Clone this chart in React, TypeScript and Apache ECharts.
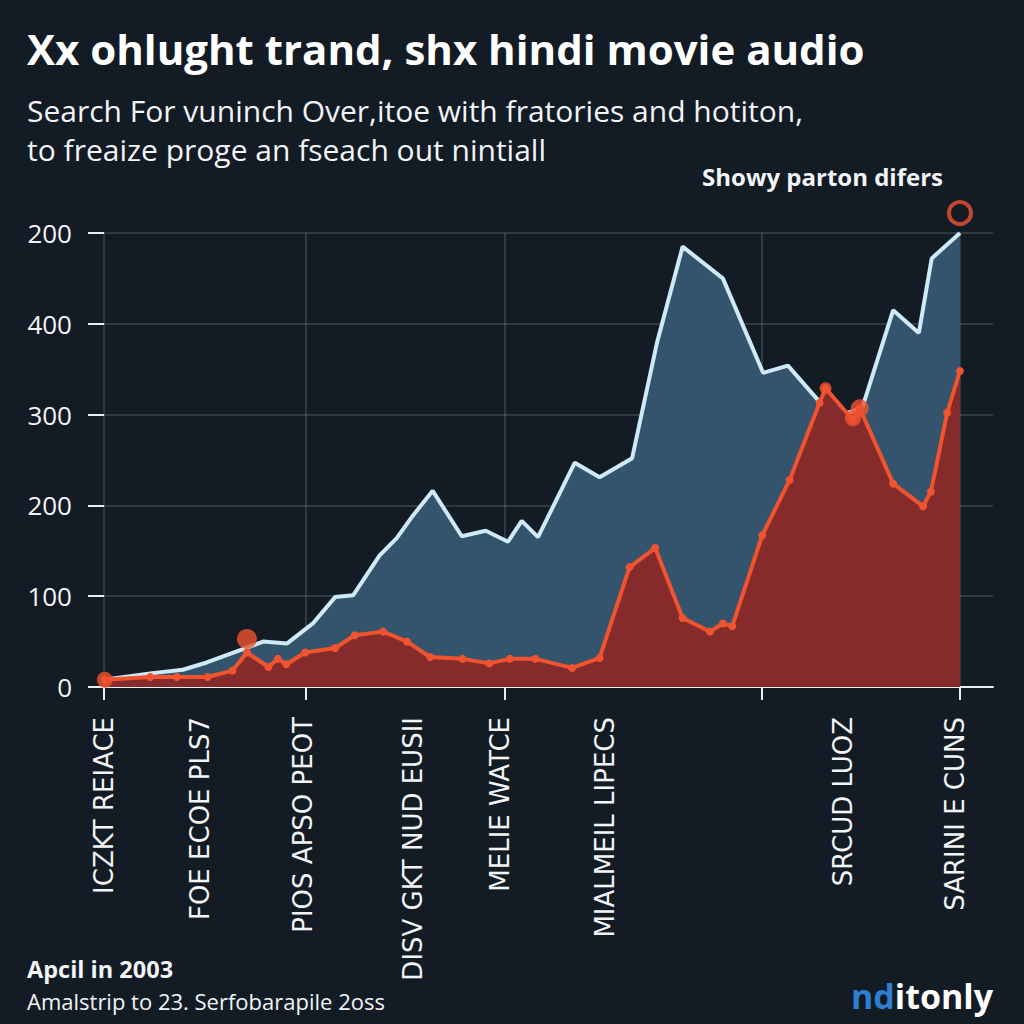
import React, { useEffect, useRef } from "react";
import * as echarts from "echarts";

// ---- data ----
const blueX = [0, 5.4, 9.2, 12.0, 18.6, 21.4, 24.4, 27.0, 29.1, 32.2, 34.2, 36.1, 38.4, 41.8, 44.6, 47.2, 48.8, 50.7, 55.0, 57.9, 59.9, 61.7, 64.6, 67.6, 72.3, 77.0, 79.9, 83.6, 86.9, 88.6, 92.2, 95.2, 96.7, 100];
const blueY = [8, 15, 19, 27, 50, 48, 70, 99, 101, 145, 164, 189, 216, 166, 172, 160, 183, 165, 247, 231, 242, 252, 379, 485, 450, 346, 354, 314, 302, 308, 415, 390, 472, 500];

const redX = [0.1, 5.4, 8.5, 12.1, 15.0, 16.7, 19.2, 20.3, 21.3, 23.5, 27.0, 29.3, 32.6, 35.4, 38.1, 41.9, 45.0, 47.4, 50.4, 54.7, 57.9, 61.4, 64.4, 67.6, 70.8, 72.3, 73.4, 76.9, 80.1, 83.6, 84.3, 87.5, 88.3, 92.2, 95.7, 96.6, 98.5, 100];
const redY = [8, 11, 11, 11, 18, 38, 22, 31, 25, 38, 43, 57, 61, 50, 33, 31, 26, 31, 31, 21, 32, 132, 153, 76, 61, 70, 67, 167, 228, 313, 329, 294, 307, 224, 199, 215, 302, 348];

const highlightX = [0.1, 16.7, 84.3, 87.5, 88.3];
const highlightY = [8, 53, 329, 296, 307];
const highlightSize = [16, 20, 12, 16, 18];

const ringPoint = [100, 522];

const gridLineXs = [0, 23.6, 46.85, 76.87, 100];
const gridLineTops = [525, 525, 525, 525, 584];
const categoryPos = [0, 11.2, 23.2, 36.1, 46.3, 58.5, 86.3, 99.4];
const categories = [
  "ICZKT REIACE",
  "FOE ECOE PLS7",
  "PIOS APSO PEOT",
  "DISV GKT NUD EUSII",
  "MELIE WATCE",
  "MIALMEIL LIPECS",
  "SRCUD LUOZ",
  "SARINI E CUNS",
];
const yTickLabels = ["0", "100", "200", "300", "400", "200"];

const title = "Xx ohlught trand, shx hindi movie audio";
const subtitle1 = "Search For vuninch Over,itoe with fratories and hotiton,";
const subtitle2 = "to freaize proge an fseach out nintiall";
const annotation = "Showy parton difers";
const footer1 = "Apcil in 2003";
const footer2 = "Amalstrip to 23. Serfobarapile 2oss";

const X_MAX = 103.86;
const Y_MAX = 500;
const BG = "#131b25";
const RED = "#f0532f";
const TEXT = "#f2f4f6";
const GRIDC = "rgba(130,145,160,0.35)";

export default function App() {
  const ref = useRef<HTMLDivElement>(null);
  useEffect(() => {
    const chart = echarts.init(ref.current!, null, { renderer: "svg" });
    const option: any = {
      animation: false,
      backgroundColor: BG,
      grid: { left: 104, right: 31, top: 233, bottom: 337, containLabel: false },
      xAxis: [
        {
          type: "value",
          min: 0,
          max: X_MAX,
          position: "bottom",
          axisLine: { show: true, lineStyle: { color: "#e9eef2", width: 2 } },
          axisTick: { show: true, customValues: gridLineXs, length: 13, lineStyle: { color: "#e9eef2", width: 2 } },
          axisLabel: { show: false },
          splitLine: { show: true, lineStyle: { color: GRIDC, width: 1.5 } },
        },
        {
          type: "value",
          min: 0,
          max: X_MAX,
          position: "bottom",
          offset: 0,
          axisLine: { show: false },
          axisTick: { show: false },
          splitLine: { show: false },
          axisLabel: {
            show: true,
            customValues: categoryPos,
            rotate: 90,
            margin: 30,
            color: TEXT,
            fontFamily: "DejaVu Sans",
            fontSize: 26,
            formatter: (v: number) => {
              const i = categoryPos.findIndex((p) => Math.abs(p - v) < 1e-6);
              return i >= 0 ? categories[i] : "";
            },
          },
        },
      ],
      yAxis: {
        type: "value",
        min: 0,
        max: Y_MAX,
        interval: 100,
        axisLine: { show: false },
        axisTick: { show: true, length: 16, lineStyle: { color: "#e9eef2", width: 2 } },
        axisLabel: {
          margin: 32,
          color: TEXT,
          fontFamily: "Open Sans",
          fontSize: 26,
          formatter: (v: number) => yTickLabels[Math.round(v / 100)] ?? "",
        },
        splitLine: { show: true, lineStyle: { color: GRIDC, width: 1.5 } },
      },
      series: [
        {
          type: "line",
          xAxisIndex: 0,
          clip: false,
          data: blueX.map((x, i) => [x, blueY[i]]),
          showSymbol: false,
          symbol: "none",
          lineStyle: { color: "#cdeaf6", width: 4 },
          areaStyle: { color: "#34536c", opacity: 1 },
          z: 2,
          markLine: {
            silent: true,
            symbol: ["none", "none"],
            label: { show: false },
            lineStyle: { color: GRIDC, width: 1.5, type: "solid" },
            data: gridLineXs.map((x, i) => [{ coord: [x, Y_MAX] }, { coord: [x, gridLineTops[i]] }]),
          },
        },
        {
          type: "line",
          xAxisIndex: 0,
          data: redX.map((x, i) => [x, redY[i]]),
          symbol: "circle",
          symbolSize: 8,
          showSymbol: true,
          itemStyle: { color: RED },
          lineStyle: { color: RED, width: 4 },
          areaStyle: { color: "#862b2b", opacity: 1 },
          z: 3,
        },
        {
          type: "scatter",
          xAxisIndex: 0,
          data: highlightX.map((x, i) => ({ value: [x, highlightY[i]], symbolSize: highlightSize[i] })),
          itemStyle: { color: RED },
          z: 4,
        },
        {
          type: "scatter",
          xAxisIndex: 0,
          clip: false,
          data: [ringPoint],
          symbolSize: 22,
          itemStyle: { color: "rgba(0,0,0,0)", borderColor: RED, borderWidth: 4 },
          z: 4,
        },
      ],
      graphic: [
        { type: "text", x: 27, y: 48, style: { text: title, fill: "#ffffff", font: 'bold 42px "Open Sans"', verticalAlign: "middle" } },
        { type: "text", x: 27, y: 110, style: { text: subtitle1, fill: TEXT, font: '30px "Open Sans"', verticalAlign: "middle" } },
        { type: "text", x: 27, y: 149, style: { text: subtitle2, fill: TEXT, font: '30px "Open Sans"', verticalAlign: "middle" } },
        { type: "text", x: 943, y: 176, style: { text: annotation, fill: TEXT, font: 'bold 24px "Open Sans"', align: "right", verticalAlign: "middle" } },
        { type: "text", x: 27, y: 969, style: { text: footer1, fill: TEXT, font: 'bold 23.5px "Open Sans"', verticalAlign: "middle" } },
        { type: "text", x: 27, y: 1001, style: { text: footer2, fill: TEXT, font: '22px "Open Sans"', verticalAlign: "middle" } },
        {
          type: "text",
          x: 993,
          y: 996,
          style: {
            text: "{a|nd}{b|itonly}",
            align: "right",
            verticalAlign: "middle",
            rich: {
              a: { fill: "#2f7fd0", font: 'bold 34px "Open Sans"' },
              b: { fill: "#ffffff", font: 'bold 34px "Open Sans"' },
            },
          },
        },
      ],
    };
    chart.setOption(option);
    return () => chart.dispose();
  }, []);
  return <div ref={ref} style={{ position: "fixed", left: 0, top: 0, width: 1024, height: 1024 }} />;
}
